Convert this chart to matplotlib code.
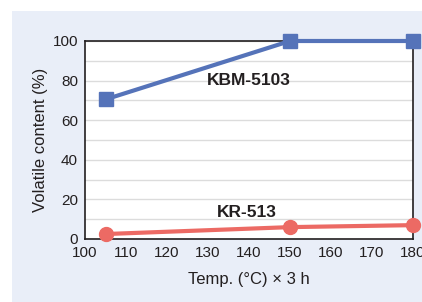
import matplotlib.pyplot as plt
from matplotlib.patches import Rectangle

plt.rcParams['font.family'] = ['Liberation Sans', 'DejaVu Sans']

temps = [105, 150, 180]
kbm_5103 = [70.5, 100, 100]
kr_513 = [2.5, 6, 7]

fig = plt.figure(figsize=(4.22, 3.02), dpi=100)
fig.patches.append(Rectangle((12/422, 0), 1, 1 - 11/302, transform=fig.transFigure,
                             facecolor='#e9eef8', edgecolor='none', zorder=-1))

ax = fig.add_axes([85/422, 1 - 239/302, 328/422, 198/302])
ax.set_facecolor('white')

ax.plot(temps, kbm_5103, color='#5573b9', lw=3, marker='s', ms=10, clip_on=False, zorder=3)
ax.plot(temps, kr_513, color='#ec6a64', lw=3, marker='o', ms=10, clip_on=False, zorder=3)

# series labels
ax.text(140, 80, 'KBM-5103', ha='center', va='center', fontsize=12.5, fontweight='bold', color='#231f20')
ax.text(139.5, 13.5, 'KR-513', ha='center', va='center', fontsize=12.5, fontweight='bold', color='#231f20')

ax.set_xlim(100, 180)
ax.set_ylim(0, 100)
ax.set_xticks(range(100, 181, 10))
ax.set_yticks(range(0, 101, 20))
ax.set_yticks(range(10, 100, 20), minor=True)
ax.grid(True, which='both', axis='y', color='#dcdcdc', lw=1)
ax.set_axisbelow(True)
ax.tick_params(length=0, labelsize=11, colors='#231f20', pad=5)
ax.tick_params(which='minor', length=0)
for s in ax.spines.values():
    s.set_color('#231f20')
    s.set_linewidth(1.2)

ax.set_xlabel('Temp. (°C) × 3 h', fontsize=12, color='#231f20', labelpad=9)
ax.set_ylabel('Volatile content (%)', fontsize=12, color='#231f20', labelpad=3)

fig.savefig('out.png', dpi=100)
